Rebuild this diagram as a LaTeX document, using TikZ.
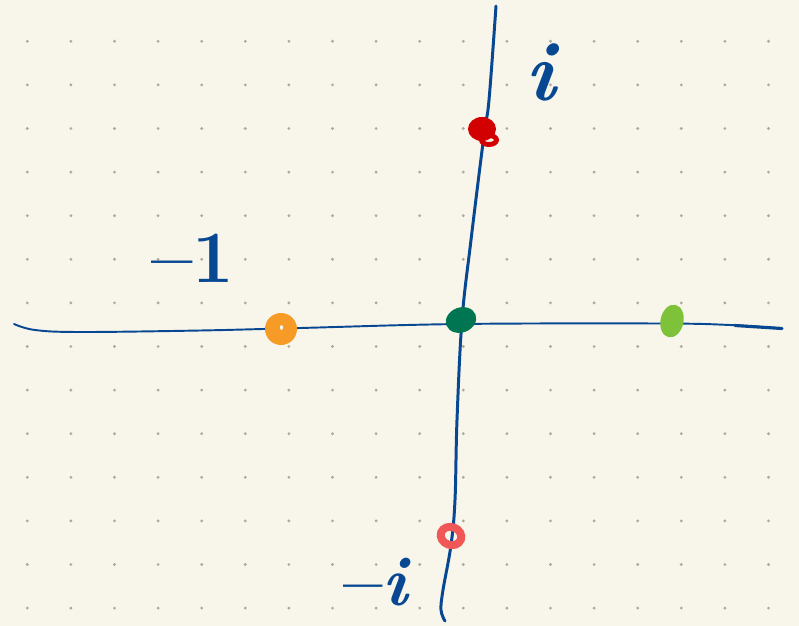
\documentclass[tikz,border=0pt]{standalone}
\usepackage{xcolor}
\definecolor{paper}{RGB}{248,246,235}
\definecolor{gridgray}{RGB}{172,169,158}
\definecolor{inkblue}{RGB}{8,72,146}
\definecolor{ptred}{RGB}{210,0,0}
\definecolor{ptpink}{RGB}{240,88,88}
\definecolor{ptorange}{RGB}{245,155,38}
\definecolor{ptdkgreen}{RGB}{0,117,82}
\definecolor{ptltgreen}{RGB}{126,194,58}
\usepackage{tikz}
\usetikzlibrary{shapes.geometric}
\tikzset{
  gridpt/.style={fill=gridgray},
  axisline/.style={draw=inkblue, line cap=round, line join=round},
  blob/.style={ellipse, inner sep=0pt, draw=none, fill=#1},
  hwlabel/.style={text=inkblue, inner sep=0pt},
}
\begin{document}
\begin{tikzpicture}[x=0.02cm,y=-0.02cm]
  \useasboundingbox[fill=paper] (0,0) rectangle (799,626);
  % dot grid
  \foreach \i in {0,...,17}
    \foreach \j in {0,...,13}
      \fill[gridpt] ({27.3+43.6*\i},{41.3+43.6*\j}) circle (0.9pt);
  % real axis
  \draw[axisline, line width=1.1pt] plot[smooth, tension=0.6] coordinates
    {(14,324) (35,330) (80,332) (200,330.5) (300,328) (460,324) (660,323.5) (730,325) (782,328.5)};
  \draw[axisline, line width=1.8pt] (735,325.5) -- (782,328.5);
  % imaginary axis
  \draw[axisline, line width=1.7pt] plot[smooth, tension=0.6] coordinates
    {(496,6) (489,100) (484,135) (471,240) (462,320) (457,420) (455,500) (451,545) (443,590) (441,610) (445,621)};
  % points
  \node[blob=ptdkgreen, minimum width=31*0.02cm, minimum height=25*0.02cm, rotate=20] (zero) at (461,320) {};
  \node[blob=ptltgreen, minimum width=23*0.02cm, minimum height=33*0.02cm, rotate=-12] (one) at (672,321) {};
  \node[blob=ptorange, minimum width=32*0.02cm, minimum height=32*0.02cm] (mone) at (281,329) {};
  \fill[paper] (281.5,327.5) ellipse (1.6 and 2.4);
  \node[blob=ptred, minimum width=28*0.02cm, minimum height=24*0.02cm] (iunit) at (482,129) {};
  \draw[ptred, line width=2.8pt] (489,140) ellipse (7.5 and 4.5);
  \draw[ptpink, line width=4.5pt, rotate around={-20:(451,536)}] (451,536) ellipse (10.5 and 9);
  \coordinate (mi) at (451,536);
  % labels
  \node[hwlabel, font=\fontsize{48}{48}\selectfont\bfseries] (li) at (543,72) {\textit{i}};
  \node[hwlabel, font=\fontsize{42}{42}\selectfont\bfseries] (lmone) at (193,258) {\textendash1};
  \node[hwlabel, font=\fontsize{40}{40}\selectfont\bfseries] (lmi) at (377,582) {\textendash\textit{i}};
\end{tikzpicture}
\end{document}
